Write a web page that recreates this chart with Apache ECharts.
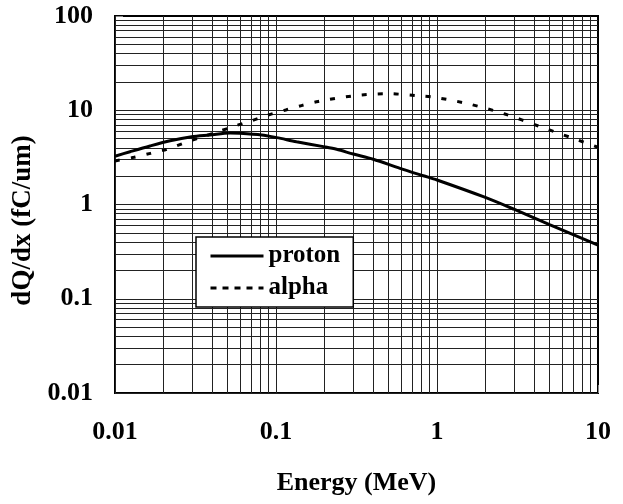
<!DOCTYPE html>
<html>
<head>
<meta charset="utf-8">
<script src="https://cdn.jsdelivr.net/npm/echarts@6/dist/echarts.min.js"></script>
<style>
html, body { margin: 0; padding: 0; background: #fff; }
#main { width: 623px; height: 504px; }
</style>
</head>
<body>
<div id="main"></div>
<script>
// values (log-log)
var protonEnergy = [0.01, 0.0124, 0.0165, 0.022, 0.0299, 0.0389, 0.0518, 0.0597, 0.0815, 0.101, 0.134, 0.197, 0.238, 0.302, 0.402, 0.589, 0.822, 1.0, 1.94, 2.98, 5.04, 10];
var protonDqdx   = [3.25, 3.63, 4.18, 4.75, 5.24, 5.46, 5.72, 5.69, 5.46, 5.12, 4.64, 4.11, 3.85, 3.43, 3.02, 2.42, 2.02, 1.82, 1.21, 0.896, 0.607, 0.37];

var alphaEnergy = [0.01, 0.0131, 0.0166, 0.0211, 0.0272, 0.0337, 0.0438, 0.0555, 0.0706, 0.0896, 0.115, 0.144, 0.183, 0.302, 0.488, 0.783, 1.0, 1.6, 2.64, 4.26, 6.9, 10];
var alphaDqdx   = [2.9, 3.17, 3.49, 3.86, 4.53, 5.12, 5.93, 6.81, 7.74, 8.91, 10.07, 11.2, 12.4, 14.2, 15.0, 14.2, 13.6, 11.6, 9.12, 6.81, 5.08, 4.05];

var xTickLabels = ['0.01', '0.1', '1', '10'];
var yTickLabels = ['0.01', '0.1', '1', '10', '100'];

var FONT = 'Liberation Serif, Times New Roman, serif';

function toPairs(xs, ys) {
    var out = [];
    for (var i = 0; i < xs.length; i++) out.push([xs[i], ys[i]]);
    return out;
}

// log paper lines: 1..9 in every decade
function logLines(lo, hi) {
    var lines = [];
    for (var d = lo; d < hi; d++) {
        for (var m = 1; m <= 9; m++) lines.push(m * Math.pow(10, d));
    }
    return lines;
}

var gridMarks = [];
logLines(-2, 1).forEach(function (v) { gridMarks.push({ xAxis: v }); });
logLines(-2, 2).forEach(function (v) { gridMarks.push({ yAxis: v }); });

function tickLabel(list, lo) {
    return function (v) {
        var k = Math.round(Math.log10(v)) - lo;
        return list[k] || '';
    };
}

var chart = echarts.init(document.getElementById('main'));

var option = {
    animation: false,
    color: ['#000', '#000'],
    grid: {
        left: 115, top: 16, right: 25, bottom: 111,
        show: true, borderColor: '#000', borderWidth: 2,
        outerBoundsMode: 'none'
    },
    legend: {
        left: 196, top: 237,
        orient: 'vertical',
        backgroundColor: '#fff',
        borderColor: '#000', borderWidth: 1.5, borderRadius: 0,
        padding: [6, 13, 6, 13],
        itemWidth: 53, itemHeight: 14, itemGap: 6,
        itemStyle: { opacity: 0 },
        textStyle: { fontFamily: FONT, fontWeight: 'bold', fontSize: 25, color: '#000', lineHeight: 26 },
        data: [
            { name: 'proton', lineStyle: { width: 3, type: 'solid', color: '#000', opacity: 1 } },
            { name: 'alpha', lineStyle: { width: 3, type: [6, 6], color: '#000', opacity: 1 } }
        ]
    },
    xAxis: {
        type: 'log', logBase: 10, min: 0.01, max: 10,
        name: 'Energy (MeV)', nameLocation: 'middle', nameGap: 77,
        nameTextStyle: { fontFamily: FONT, fontWeight: 'bold', fontSize: 26, color: '#000' },
        axisLine: { lineStyle: { color: '#000', width: 2 } },
        axisTick: { inside: true, length: 8, lineStyle: { color: '#888' } },
        axisLabel: {
            margin: 26, fontFamily: FONT, fontWeight: 'bold', fontSize: 26, color: '#000',
            showMinLabel: true, showMaxLabel: true,
            formatter: tickLabel(xTickLabels, -2)
        },
        splitLine: { show: false }
    },
    yAxis: {
        type: 'log', logBase: 10, min: 0.01, max: 100,
        name: 'dQ/dx (fC/um)', nameLocation: 'middle', nameGap: 76,
        nameTextStyle: { fontFamily: FONT, fontWeight: 'bold', fontSize: 27, color: '#000', padding: [0, 32, 0, 0] },
        axisLine: { lineStyle: { color: '#000', width: 2 } },
        axisTick: { inside: true, length: 8, lineStyle: { color: '#888' } },
        axisLabel: {
            margin: 22, fontFamily: FONT, fontWeight: 'bold', fontSize: 26, color: '#000',
            showMinLabel: true, showMaxLabel: true,
            formatter: tickLabel(yTickLabels, -2)
        },
        splitLine: { show: false }
    },
    series: [
        {
            name: 'proton',
            type: 'line',
            data: toPairs(protonEnergy, protonDqdx),
            showSymbol: false, symbol: 'none',
            smooth: 0.3,
            lineStyle: { color: '#000', width: 3 },
            markLine: {
                silent: true,
                symbol: ['none', 'none'],
                label: { show: false },
                emphasis: { disabled: true },
                lineStyle: { color: '#222', width: 1, type: 'solid' },
                data: gridMarks,
                z: 1
            },
            z: 3
        },
        {
            name: 'alpha',
            type: 'line',
            data: toPairs(alphaEnergy, alphaDqdx),
            showSymbol: false, symbol: 'none',
            smooth: 0.3,
            lineStyle: { color: '#000', width: 3, type: [5, 11] },
            z: 3
        }
    ]
};

chart.setOption(option);
</script>
</body>
</html>
